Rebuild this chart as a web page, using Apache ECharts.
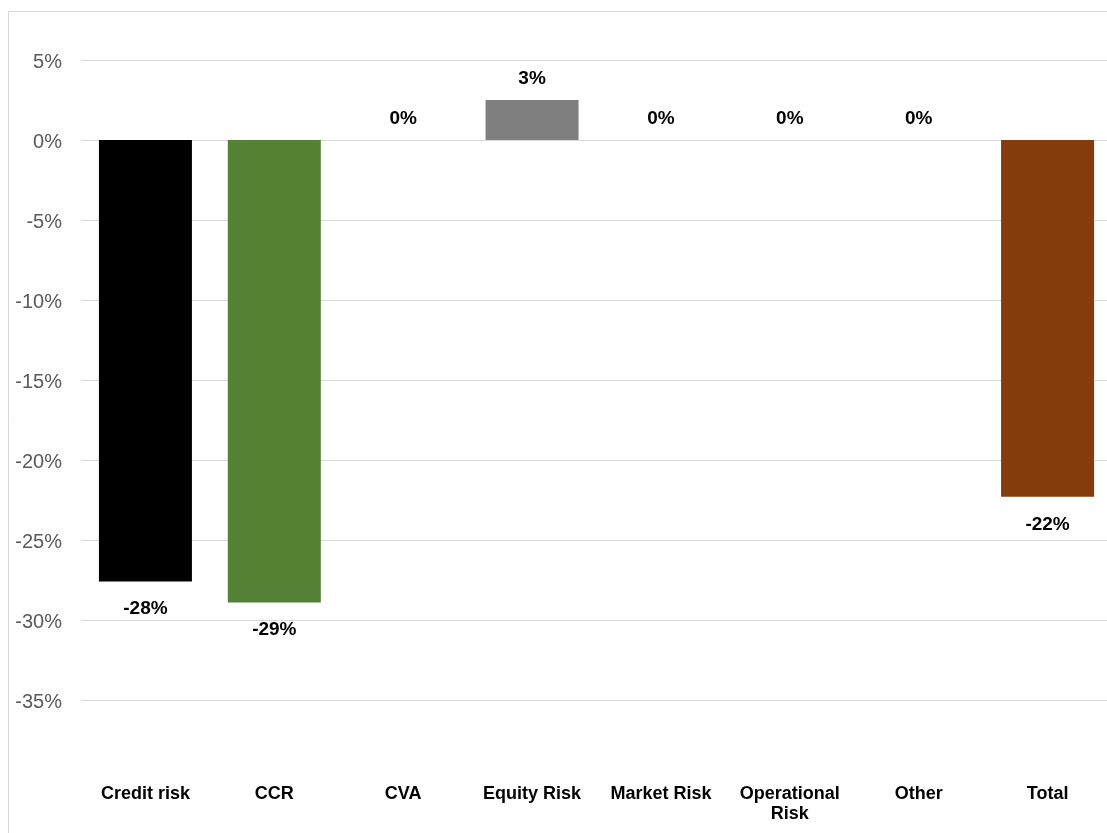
<!DOCTYPE html>
<html>
<head>
<meta charset="utf-8">
<script src="https://cdn.jsdelivr.net/npm/echarts@6/dist/echarts.min.js"></script>
<style>
  html, body { margin: 0; padding: 0; background: #fff; }
  #chart { width: 1107px; height: 833px; }
</style>
</head>
<body>
<div id="chart"></div>
<script>
// Change by risk type (%)
const categories = ['Credit risk', 'CCR', 'CVA', 'Equity Risk', 'Market Risk', 'Operational\nRisk', 'Other', 'Total'];
const values = [-27.6, -28.9, 0, 2.5, 0, 0, 0, -22.3];
const barColors = ['#000000', '#548235', '#7f7f7f', '#7f7f7f', '#7f7f7f', '#7f7f7f', '#7f7f7f', '#843c0c'];
const yTicks = { min: -35, max: 5, interval: 5 };

const chart = echarts.init(document.getElementById('chart'), null, { renderer: 'canvas' });

const data = values.map((v, i) => ({
  value: v,
  itemStyle: { color: barColors[i] },
  label: v < 0 ? { position: 'bottom', distance: 18 } : { position: 'top', distance: 12 }
}));

chart.setOption({
  animation: false,
  graphic: [{
    type: 'rect',
    shape: { x: 8.5, y: 11.5, width: 1120, height: 840 },
    style: { fill: 'none', stroke: '#d9d9d9', lineWidth: 1 },
    silent: true
  }],
  grid: { left: 81, width: 1031, top: 60, height: 640, containLabel: false, outerBoundsMode: 'none' },
  xAxis: {
    type: 'category',
    data: categories,
    axisLine: { show: false },
    axisTick: { show: false },
    axisLabel: {
      margin: 84,
      color: '#000000',
      fontFamily: 'Liberation Sans, Arial, sans-serif',
      fontWeight: 'bold',
      fontSize: 18,
      lineHeight: 20,
      verticalAlign: 'top',
      interval: 0
    }
  },
  yAxis: {
    type: 'value',
    min: yTicks.min,
    max: yTicks.max,
    interval: yTicks.interval,
    axisLine: { show: false },
    axisTick: { show: false },
    splitLine: { lineStyle: { color: '#d9d9d9', width: 1 } },
    axisLabel: {
      margin: 19,
      formatter: v => '{t|' + v + '%}',
      rich: {
        t: {
          color: '#595959',
          fontFamily: 'Liberation Sans, Arial, sans-serif',
          fontSize: 20,
          padding: [5, 0, 0, 0]
        }
      }
    }
  },
  series: [{
    type: 'bar',
    data: data,
    barWidth: 93,
    label: {
      show: true,
      color: '#000000',
      fontFamily: 'Liberation Sans, Arial, sans-serif',
      fontWeight: 'bold',
      fontSize: 19,
      formatter: p => Math.round(p.value) + '%'
    }
  }]
});
</script>
</body>
</html>
